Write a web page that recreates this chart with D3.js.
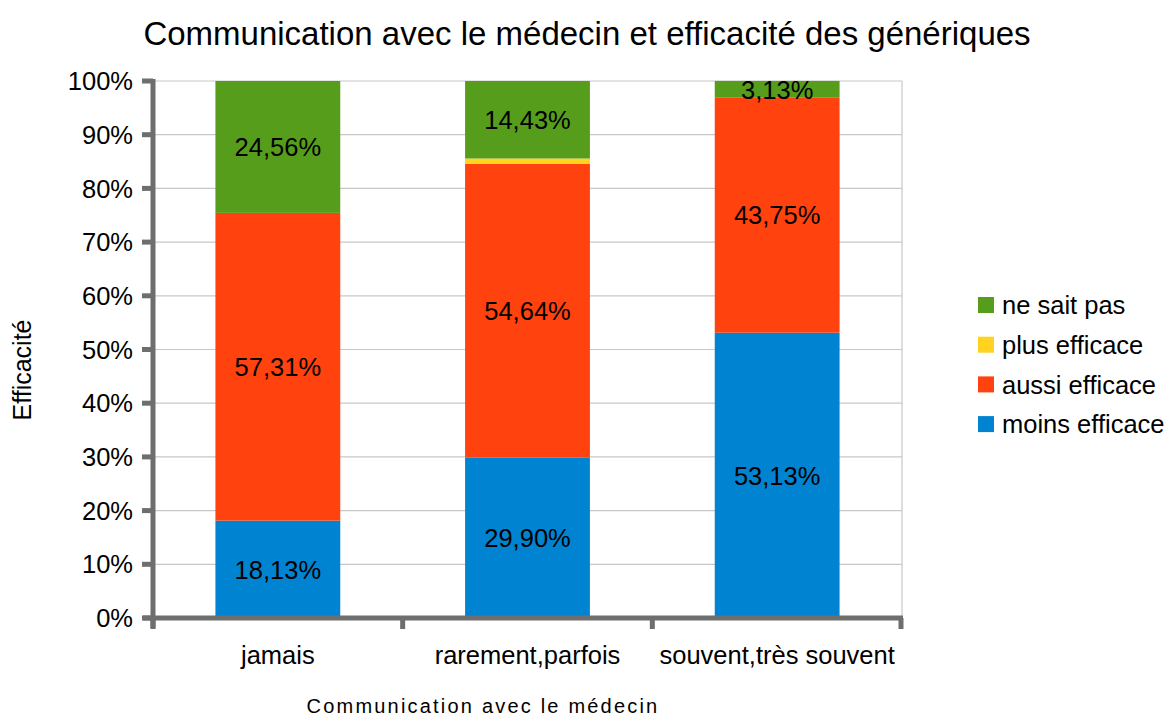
<!DOCTYPE html>
<html>
<head>
<meta charset="utf-8">
<script src="https://cdn.jsdelivr.net/npm/d3@7"></script>
<style>
  body { margin: 0; background: #fff; }
  text { font-family: "Liberation Sans", Arial, sans-serif; fill: #000; }
</style>
</head>
<body>
<div id="chart"></div>
<script>
const width = 1170, height = 717;

// data
const categories = ["jamais", "rarement,parfois", "souvent,très souvent"];
const seriesNames = ["moins efficace", "aussi efficace", "plus efficace", "ne sait pas"];
const moinsEfficace = [18.13, 29.90, 53.13];
const aussiEfficace = [57.31, 54.64, 43.75];
const plusEfficace = [0, 1.03, 0];
const neSaitPas = [24.56, 14.43, 3.13];
const colors = ["#0084d1", "#ff420e", "#ffd320", "#579d1c"];
const yTicks = [0, 10, 20, 30, 40, 50, 60, 70, 80, 90, 100];

const margin = {left: 153, right: 268, top: 81, bottom: 99};
const plotW = width - margin.left - margin.right;
const plotH = height - margin.top - margin.bottom;

const svg = d3.select('#chart').append("svg")
    .attr("width", width)
    .attr("height", height);

const x = d3.scaleBand()
    .domain(categories)
    .range([0, plotW])
    .paddingInner(0.5)
    .paddingOuter(0.25);

const y = d3.scaleLinear()
    .domain([0, 100])
    .range([plotH, 0]);

const g = svg.append("g")
    .attr("transform", "translate(" + margin.left + "," + margin.top + ")");

// grid
g.append("g").selectAll("line")
    .data(yTicks).enter()
    .append("line")
    .attr("x1", 0).attr("x2", plotW)
    .attr("y1", d => y(d)).attr("y2", d => y(d))
    .attr("stroke", "#c8c8c8")
    .attr("stroke-width", 1.2);

// right border
g.append("line")
    .attr("x1", plotW).attr("x2", plotW)
    .attr("y1", 0).attr("y2", plotH)
    .attr("stroke", "#c8c8c8")
    .attr("stroke-width", 1.2);

// stacked data
const rows = categories.map((c, i) => ({
    cat: c,
    "moins efficace": moinsEfficace[i],
    "aussi efficace": aussiEfficace[i],
    "plus efficace": plusEfficace[i],
    "ne sait pas": neSaitPas[i]
}));
const stack = d3.stack().keys(seriesNames)(rows);

const layers = g.append("g").selectAll("g")
    .data(stack).enter()
    .append("g")
    .attr("fill", (d, i) => colors[i]);

layers.selectAll("rect")
    .data(d => d).enter()
    .append("rect")
    .attr("x", d => x(d.data.cat))
    .attr("width", x.bandwidth())
    .attr("y", d => y(d[1]))
    .attr("height", d => y(d[0]) - y(d[1]));

// value labels
const fmt = v => v.toFixed(2).replace(".", ",") + "%";
stack.forEach(layer => {
    if (layer.key === "plus efficace") return;
    g.append("g").selectAll("text")
        .data(layer).enter()
        .append("text")
        .attr("x", d => x(d.data.cat) + x.bandwidth() / 2)
        .attr("y", d => (y(d[0]) + y(d[1])) / 2)
        .attr("dy", "0.36em")
        .attr("text-anchor", "middle")
        .attr("font-size", 25.5)
        .text(d => fmt(d[1] - d[0]));
});

// axes
const axisColor = "#6e6e6e";
g.append("line")
    .attr("x1", 0).attr("x2", 0)
    .attr("y1", -2).attr("y2", plotH + 10)
    .attr("stroke", axisColor).attr("stroke-width", 5);
g.append("line")
    .attr("x1", -10).attr("x2", plotW + 1)
    .attr("y1", plotH).attr("y2", plotH)
    .attr("stroke", axisColor).attr("stroke-width", 5);

// y ticks
g.append("g").selectAll("line")
    .data(yTicks).enter()
    .append("line")
    .attr("x1", -11).attr("x2", 0)
    .attr("y1", d => y(d)).attr("y2", d => y(d))
    .attr("stroke", axisColor).attr("stroke-width", 5);
g.append("g").selectAll("text")
    .data(yTicks).enter()
    .append("text")
    .attr("x", -20)
    .attr("y", d => y(d))
    .attr("dy", "0.36em")
    .attr("text-anchor", "end")
    .attr("font-size", 25.5)
    .text(d => d + "%");

// x ticks at band boundaries
const xBounds = [0, plotW / 3, 2 * plotW / 3, plotW - 1];
g.append("g").selectAll("line")
    .data(xBounds).enter()
    .append("line")
    .attr("x1", d => d).attr("x2", d => d)
    .attr("y1", plotH).attr("y2", plotH + 11)
    .attr("stroke", axisColor).attr("stroke-width", 5);
g.append("g").selectAll("text")
    .data(categories).enter()
    .append("text")
    .attr("x", d => x(d) + x.bandwidth() / 2)
    .attr("y", plotH + 46)
    .attr("text-anchor", "middle")
    .attr("font-size", 25.5)
    .text(d => d);

// titles
svg.append("text")
    .attr("x", 587)
    .attr("y", 45)
    .attr("text-anchor", "middle")
    .attr("font-size", 33)
    .text("Communication avec le médecin et efficacité des génériques");

svg.append("text")
    .attr("x", 483)
    .attr("y", 713)
    .attr("text-anchor", "middle")
    .attr("font-size", 20)
    .attr("letter-spacing", 2.2)
    .text("Communication avec le médecin");

svg.append("text")
    .attr("transform", "translate(31,370) rotate(-90)")
    .attr("text-anchor", "middle")
    .attr("font-size", 25)
    .text("Efficacité");

// legend
const legendOrder = seriesNames.slice().reverse();
const legend = svg.append("g")
    .attr("transform", "translate(978,305)");
const items = legend.selectAll("g")
    .data(legendOrder).enter()
    .append("g")
    .attr("transform", (d, i) => "translate(0," + (i * 39.7) + ")");
items.append("rect")
    .attr("x", 0).attr("y", -8)
    .attr("width", 16).attr("height", 16)
    .attr("fill", d => colors[seriesNames.indexOf(d)]);
items.append("text")
    .attr("x", 24)
    .attr("y", 0)
    .attr("dy", "0.36em")
    .attr("font-size", 25.5)
    .text(d => d);
</script>
</body>
</html>
